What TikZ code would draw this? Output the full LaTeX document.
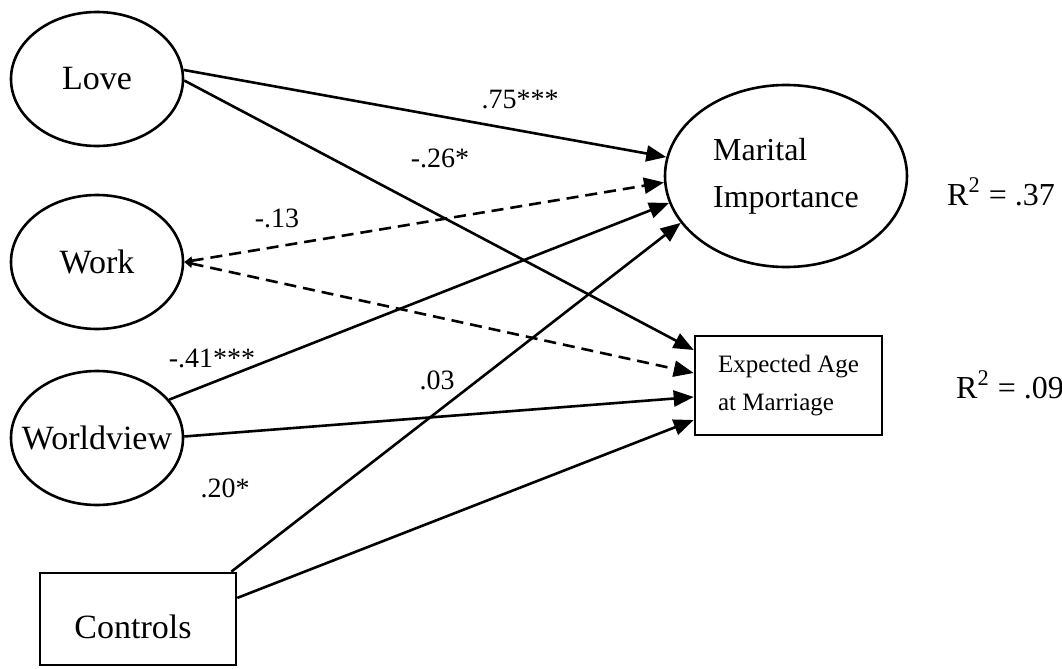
\documentclass[tikz,border=0pt]{standalone}
\usepackage{fontspec}
\setmainfont{Liberation Serif}
\usetikzlibrary{shapes.geometric,arrows.meta}
\tikzset{latent/.style = {draw, line width=1.3pt, ellipse, inner sep=0pt, minimum width=86pt, minimum height=67pt, font=\fontsize{17}{19}\selectfont},
         observed/.style = {draw, line width=1.3pt, rectangle, inner sep=0pt, font=\fontsize{17}{19}\selectfont},
         path/.style = {line width=1.3pt, -{Triangle[length=10pt,width=8pt]}},
         dpath/.style = {path, dash pattern=on 6pt off 3.5pt, {Triangle[length=4pt,width=4pt]}-{Triangle[length=10pt,width=8pt]}},
         coef/.style = {inner sep=0pt, font=\fontsize{14}{16}\selectfont}}

\begin{document}
\begin{tikzpicture}[x=0.5pt,y=-0.5pt]
        \useasboundingbox (0,0) rectangle (1062,669);

        % predictors
        \node[latent](love)at(97,79){\makebox[0pt]{Love}};
        \node[latent](work)at(97,262){\makebox[0pt]{Work}};
        \node[latent](wview)at(97,438){\makebox[0pt]{Worldview}};
        \node[observed, minimum width=98pt, minimum height=46pt, text height=20pt, text depth=0.6pt](ctrl)at(138,619){\hspace*{-5pt}Controls};

        % outcomes
        \node[latent, minimum width=121pt, minimum height=91pt, align=left, font=\fontsize{16}{23.5}\selectfont](mi)at(786,176){Marital\\Importance};
        \node[observed, minimum width=93.5pt, minimum height=49.5pt, align=left, font=\fontsize{12.5}{19}\selectfont](ea)at(788.5,385.5){Expected Age\\at Marriage};
        \node[coef, font=\fontsize{16}{18}\selectfont](r1)at(1001,192){R\textsuperscript{2} = .37};
        \node[coef, font=\fontsize{16}{18}\selectfont](r2)at(1010,385){R\textsuperscript{2} = .09};

        % paths to marital importance
        \draw[path](love.6)--(mi.171);
        \draw[dpath](work.east)--(mi.183);
        \draw[path](wview.28)--(mi.193);
        \draw[path]([xshift=-3pt]ctrl.north east)--(mi.204);

        % paths to expected age
        \draw[path](love.-1)--([yshift=17.75pt]ea.west);
        \draw[dpath](work.east)--([yshift=6.25pt]ea.west);
        \draw[path](wview.1)--([yshift=-5.75pt]ea.west);
        \draw[path](ctrl.12)--([yshift=-17.25pt]ea.west);

        % coefficients
        \node[coef](c1)at(520,100){.75***};
        \node[coef](c2)at(440,158){-.26*};
        \node[coef](c3)at(277,218){-.13};
        \node[coef](c4)at(212,358){-.41***};
        \node[coef](c5)at(437,380){.03};
        \node[coef](c6)at(225,488){.20*};
    \end{tikzpicture}
\end{document}
